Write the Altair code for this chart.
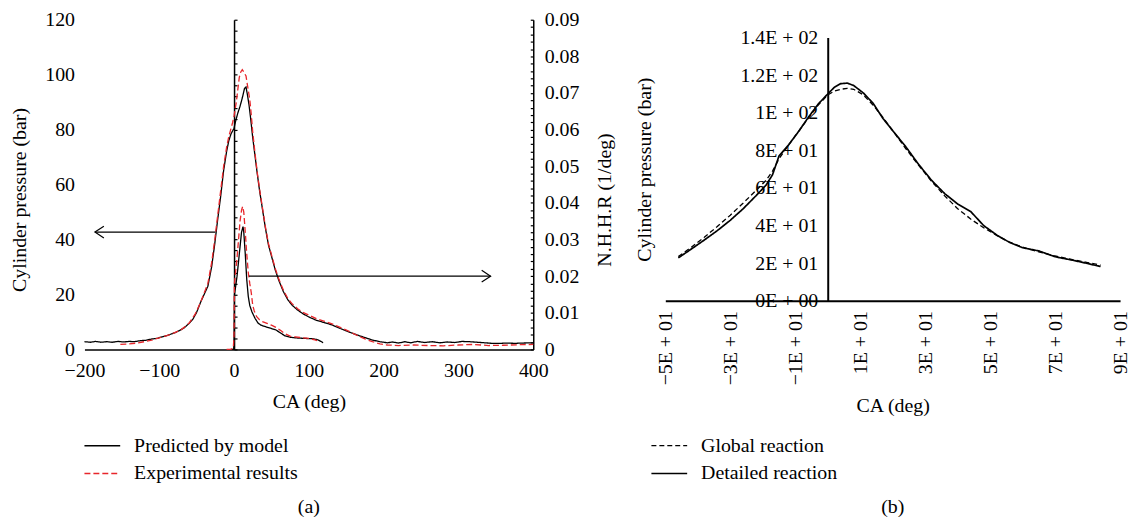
import altair as alt
import pandas as pd

FONT = "Liberation Serif"
FS = 20

# ---------------- panel (a) data ----------------
series_a = ["Predicted by model", "Experimental results"]

ca_a_pred = [-200, -192, -185, -178, -170, -163, -155, -148, -140, -133, -125, -118, -110, -103, -96, -90,
             -84, -78, -72, -66, -60, -55, -50, -45, -40, -35, -30, -26, -22, -18, -14, -10, -7, -4, -2, 0,
             2, 5, 8, 11, 14, 16, 18, 20, 22, 25, 28, 31, 34, 38, 42, 46, 50, 55, 60, 66, 72, 78, 85, 92,
             100, 110, 120, 130, 142, 155, 165, 175, 185, 195, 205, 212, 220, 228, 236, 245, 255, 265, 275,
             285, 295, 305, 315, 325, 335, 345, 355, 365, 375, 385, 400]
p_a_pred = [2.8, 2.6, 2.9, 2.6, 2.8, 2.6, 2.9, 2.7, 2.9, 2.8, 3.2, 3.3, 3.8, 4.0, 4.6, 5.0,
            5.6, 6.2, 7.0, 8.0, 9.5, 11.0, 13.5, 17.0, 20.0, 23.0, 30.0, 38.0, 47.0, 55.5, 65.0, 72.0, 76.0, 78.5, 79.5, 80.5,
            83.0, 86.0, 88.5, 91.5, 95.0, 95.5, 92.5, 89.0, 84.5, 77.0, 70.5, 64.0, 58.0, 51.0, 44.0, 38.0, 34.0, 29.0, 25.0, 21.0, 18.0, 16.0, 14.3, 13.0,
            11.8, 10.6, 9.8, 9.0, 7.6, 6.2, 5.2, 4.3, 3.4, 2.8, 2.4, 2.7, 2.3, 2.8, 2.4, 2.9, 2.5, 2.8, 2.4,
            2.7, 2.5, 2.9, 2.8, 2.6, 2.4, 2.2, 2.2, 2.3, 2.2, 2.3, 2.4]

ca_a_exp = [-152, -140, -130, -120, -110, -100, -90, -80, -70, -60, -52, -45, -40, -35, -30, -26, -22, -18,
            -14, -10, -7, -4, -2, 0, 3, 5, 7, 9, 11, 13, 16, 18, 21, 23, 25, 28, 31, 34, 38, 42, 46, 50, 55,
            60, 66, 72, 78, 85, 92, 100, 110, 120, 130, 142, 155, 165, 175, 185, 195, 205, 220, 240, 260,
            280, 300, 320, 340, 360, 380, 400]
p_a_exp = [1.8, 2.0, 2.3, 2.8, 3.4, 4.2, 5.0, 6.0, 7.3, 9.6, 12.8, 17.0, 20.5, 24.0, 31.5, 39.5, 48.5, 57.5,
           66.5, 73.5, 77.5, 80.5, 82.5, 85.0, 90.0, 94.5, 99.0, 101.0, 101.8, 101.0, 99.5, 96.0, 91.0, 85.5, 79.0, 71.5, 64.5, 58.5, 51.5, 44.5, 38.5, 34.5, 29.5,
           25.5, 21.5, 18.5, 16.5, 14.8, 13.5, 12.5, 11.2, 10.3, 9.4, 8.0, 6.4, 5.0, 3.8, 2.8, 2.0, 1.6, 1.4, 1.6, 1.4,
           1.3, 1.6, 1.8, 1.4, 1.5, 1.7, 1.8]

ca_a_hr_pred = [-3, -0.5, 0, 0.5, 2, 4, 6, 8, 10, 12, 13, 15, 17, 19, 21, 24, 28, 32, 36, 42, 50, 56, 62, 68,
                75, 85, 95, 105, 111, 116, 119]
hr_a_pred = [0.0, 0.0, 0.003, 0.015, 0.017, 0.020, 0.024, 0.028, 0.032, 0.0335, 0.032, 0.026, 0.019, 0.0145,
             0.012, 0.0102, 0.0085, 0.0072, 0.0066, 0.0062, 0.0057, 0.0053, 0.0045, 0.0037,
             0.0033, 0.0031, 0.0030, 0.0029, 0.0027, 0.0022, 0.0018]

ca_a_hr_exp = [-10, -5, -1, 0, 0.5, 2, 4, 6, 8, 10, 11.5, 13, 15, 17, 19, 21, 23, 25, 27, 30, 34, 38, 44, 50,
               56, 62, 68, 75, 82, 90, 100, 106, 111]
hr_a_exp = [0.0, 0.0, 0.0003, 0.004, 0.018, 0.021, 0.025, 0.030, 0.035, 0.038, 0.039, 0.0375, 0.032, 0.026,
            0.021, 0.018, 0.0155, 0.012, 0.0105, 0.009, 0.0081, 0.0076, 0.0071, 0.0066,
            0.006, 0.0052, 0.0043, 0.0036, 0.0034, 0.0032, 0.0030, 0.0027, 0.0024]

xt_a = [-200, -100, 0, 100, 200, 300, 400]
yt_a = [0, 20, 40, 60, 80, 100, 120]
yt_a_hr = [0, 0.01, 0.02, 0.03, 0.04, 0.05, 0.06, 0.07, 0.08, 0.09]
mid_ticks = list(range(0, 121, 4))
inner_ticks = [round(i * 0.002, 3) for i in range(46)]

# arrows in panel (a)
arrow_l = {"x_from": [-25], "x_to": [-186], "y": [42.7]}
arrow_r = {"x_from": [20], "x_to": [343], "y": [0.02]}

# ---------------- panel (b) data ----------------
series_b = ["Global reaction", "Detailed reaction"]
ca_b = [-46, -42, -38, -34, -30, -26, -22, -19, -17, -15, -12, -9, -6, -3, 0, 2, 4, 6, 8, 11, 14, 17, 20,
        24, 28, 32, 36, 40, 44, 48, 52, 56, 60, 65, 70, 75, 80, 84]
p_b_detailed = [22.8, 27.5, 32.3, 37.3, 42.8, 49.0, 56.0, 61.5, 67.0, 77.0, 83.0, 90.0, 97.5, 104.5, 110.0,
                113.5, 115.5, 115.8, 114.5, 110.5, 105.0, 97.0, 90.5, 82.0, 72.5, 64.0, 57.0, 51.5, 47.5,
                40.0, 35.0, 31.0, 28.2, 26.5, 23.4, 21.7, 19.8, 18.2]
p_b_global = [23.5, 28.5, 33.8, 39.5, 45.5, 52.0, 58.8, 64.0, 69.0, 75.5, 83.0, 90.0, 97.0, 104.0, 109.5,
              111.5, 112.5, 113.0, 112.5, 109.5, 104.0, 97.5, 90.5, 81.0, 72.0, 63.5, 55.8, 49.0, 43.5,
              38.8, 34.8, 31.2, 28.5, 26.0, 23.8, 22.0, 20.3, 19.0]

xt_b = [-50, -30, -10, 10, 30, 50, 70, 90]
xl_b = ["−5E + 01", "−3E + 01", "−1E + 01", "1E + 01", "3E + 01", "5E + 01", "7E + 01", "9E + 01"]
yt_b = [0, 20, 40, 60, 80, 100, 120, 140]
yl_b = ["0E + 00", "2E + 01", "4E + 01", "6E + 01", "8E + 01", "1E + 02", "1.2E + 02", "1.4E + 02"]

captions = ["(a)", "(b)"]

# ---------------- layout ----------------
W_A, H_A = 452, 332
W_B, H_B = 458, 265
D_B = 18  # panel (b) plot starts lower than panel (a)
TITLE_Y_A = H_A / 2 + 15  # y titles of panel (a) sit a little below centre

df_pa = pd.concat([
    pd.DataFrame({"ca": ca_a_pred, "p": p_a_pred, "series": series_a[0]}),
    pd.DataFrame({"ca": ca_a_exp, "p": p_a_exp, "series": series_a[1]}),
])
df_ha = pd.concat([
    pd.DataFrame({"ca": ca_a_hr_pred, "hr": hr_a_pred, "series": series_a[0]}),
    pd.DataFrame({"ca": ca_a_hr_exp, "hr": hr_a_exp, "series": series_a[1]}),
])
df_b = pd.concat([
    pd.DataFrame({"ca": ca_b, "p": p_b_global, "series": series_b[0]}),
    pd.DataFrame({"ca": ca_b, "p": p_b_detailed, "series": series_b[1]}),
])


def js_list(vals):
    return "[" + ",".join(repr(v) if isinstance(v, str) else str(v) for v in vals) + "]"


def caption(text):
    return alt.TitleParams(text, orient="bottom", anchor="middle", frame="group", offset=14,
                           font=FONT, fontSize=FS, fontWeight="normal", color="black")


xs_a = alt.Scale(domain=[-200, 400], nice=False, zero=False)
ys_p = alt.Scale(domain=[0, 120], nice=False)
ys_h = alt.Scale(domain=[0, 0.09], nice=False)

leg_a = alt.Legend(title=None, orient="none", legendX=8, legendY=419, direction="vertical",
                   symbolType="M-2,0L2,0", symbolSize=324, symbolStrokeWidth=1.5,
                   labelOffset=22, rowPadding=8, labelFont=FONT, labelFontSize=FS,
                   labelColor="black", padding=0, labelLimit=0)

color_a = alt.Color("series:N", scale=alt.Scale(domain=series_a, range=["#000000", "#e8262b"]), legend=leg_a)
dash_a = alt.StrokeDash("series:N", scale=alt.Scale(domain=series_a, range=[[1, 0], [6, 3]]), legend=leg_a)

x_axis_a = alt.Axis(values=xt_a, title="CA (deg)", ticks=False,
                    domainColor="black", domainWidth=1.5, labelPadding=11, titlePadding=12,
                    labelFlush=False, labelOverlap=False)

y_axis_a_left = alt.Axis(orient="left", values=yt_a, ticks=False, domain=False,
                         labelPadding=10, title="Cylinder pressure (bar)",
                         titleX=-55, titleY=TITLE_Y_A, titleAngle=270,
                         titleBaseline="bottom", titleAlign="center")
y_axis_a_right = alt.Axis(orient="right", values=yt_a_hr, format=".2~f", ticks=False,
                          domainColor="black", domainWidth=1.5, labelPadding=11,
                          title="N.H.H.R (1/deg)", titleX=62, titleY=TITLE_Y_A, titleAngle=270,
                          titleBaseline="top", titleAlign="center")
y_axis_a_mid = alt.Axis(orient="right", offset=-2 * W_A / 3, values=mid_ticks,
                        labels=False, tickSize=3, tickColor="black", tickWidth=1.2,
                        domainColor="black", domainWidth=1.5, title=None)
y_axis_a_inner = alt.Axis(orient="left", offset=-W_A, values=inner_ticks,
                          labels=False, tickSize=3, tickColor="black", tickWidth=1.2,
                          domain=False, title=None)

a_press = alt.Chart(df_pa).mark_line(strokeWidth=1.3).encode(
    x=alt.X("ca:Q", scale=xs_a, axis=x_axis_a),
    y=alt.Y("p:Q", scale=ys_p, axis=y_axis_a_left),
    color=color_a, strokeDash=dash_a,
)

a_hr = alt.Chart(df_ha).mark_line(strokeWidth=1.3).encode(
    x=alt.X("ca:Q", scale=xs_a, axis=x_axis_a),
    y=alt.Y("hr:Q", scale=ys_h, axis=y_axis_a_right),
    color=color_a, strokeDash=dash_a,
)

a_arrow_l_line = alt.Chart(pd.DataFrame(arrow_l)).mark_rule(color="black", strokeWidth=1.2).encode(
    x=alt.X("x_from:Q", scale=xs_a, axis=x_axis_a), x2="x_to:Q",
    y=alt.Y("y:Q", scale=ys_p, axis=y_axis_a_mid),
)
a_arrow_l_head = alt.Chart(pd.DataFrame(arrow_l)).mark_point(
    shape="M1.5,-1L0,0L1.5,1", size=144, filled=False, color="black", strokeWidth=1.2, opacity=1
).encode(x=alt.X("x_to:Q", scale=xs_a, axis=x_axis_a), y=alt.Y("y:Q", scale=ys_p, axis=y_axis_a_mid))

a_arrow_r_line = alt.Chart(pd.DataFrame(arrow_r)).mark_rule(color="black", strokeWidth=1.2).encode(
    x=alt.X("x_from:Q", scale=xs_a, axis=x_axis_a), x2="x_to:Q",
    y=alt.Y("y:Q", scale=ys_h, axis=y_axis_a_inner),
)
a_arrow_r_head = alt.Chart(pd.DataFrame(arrow_r)).mark_point(
    shape="M-1.5,-1L0,0L-1.5,1", size=144, filled=False, color="black", strokeWidth=1.2, opacity=1
).encode(x=alt.X("x_to:Q", scale=xs_a, axis=x_axis_a), y=alt.Y("y:Q", scale=ys_h, axis=y_axis_a_inner))

panel_a = alt.layer(
    a_press, a_hr,
    alt.layer(a_arrow_l_line, a_arrow_l_head),
    alt.layer(a_arrow_r_line, a_arrow_r_head),
).resolve_scale(y="independent").properties(width=W_A, height=H_A, title=caption(captions[0]))

# ---------------- panel (b) ----------------
zero_px = W_B * 50 / 140
leg_b = alt.Legend(title=None, orient="none", legendX=-6, legendY=419, direction="vertical",
                   symbolType="M-2,0L2,0", symbolSize=324, symbolStrokeColor="black",
                   labelOffset=22, rowPadding=8, labelFont=FONT, labelFontSize=FS,
                   labelColor="black", padding=0, labelLimit=0)

panel_b = alt.Chart(df_b).mark_line(color="black").encode(
    x=alt.X("ca:Q", scale=alt.Scale(domain=[-50, 90], nice=False, zero=False),
            axis=alt.Axis(values=xt_b, labelExpr=js_list(xl_b) + "[indexof(" + js_list(xt_b) + ", datum.value)]",
                          labelAngle=270, ticks=False, domainColor="black", domainWidth=2,
                          labelPadding=10, labelFlush=False, labelOverlap=False,
                          title="CA (deg)", titlePadding=11)),
    y=alt.Y("p:Q", scale=alt.Scale(domain=[0, 140], nice=False, range=[H_B + D_B, D_B]),
            axis=alt.Axis(orient="left", offset=-zero_px, values=yt_b,
                          labelExpr=js_list(yl_b) + "[indexof(" + js_list(yt_b) + ", datum.value)]",
                          ticks=False, domainColor="black", domainWidth=2, labelPadding=10,
                          labelOverlap=False,
                          title="Cylinder pressure (bar)", titleX=-zero_px - 11, titleY=D_B + H_B / 2,
                          titleAngle=270, titleBaseline="bottom", titleAlign="center")),
    strokeDash=alt.StrokeDash("series:N", scale=alt.Scale(domain=series_b, range=[[5, 3], [1, 0]]), legend=leg_b),
    strokeWidth=alt.StrokeWidth("series:N", scale=alt.Scale(domain=series_b, range=[1.3, 1.7]), legend=leg_b),
).properties(width=W_B, height=H_B + D_B, title=caption(captions[1]))

chart = alt.hconcat(panel_a, panel_b, spacing=20).resolve_scale(
    color="independent", strokeDash="independent", strokeWidth="independent"
).properties(
    padding={"left": 2, "top": 0, "right": 0, "bottom": 0}
).configure_axis(
    labelFont=FONT, titleFont=FONT, labelFontSize=FS, titleFontSize=FS,
    labelColor="black", titleColor="black", titleFontWeight="normal", grid=False
).configure_view(stroke=None)

chart.save("out.html", embed_options={"renderer": "svg", "actions": False})
